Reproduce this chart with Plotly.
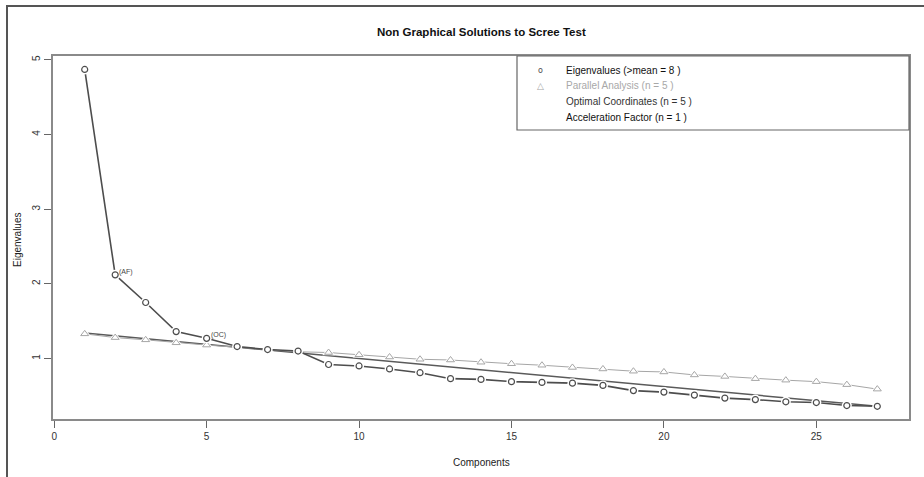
import plotly.graph_objects as go

# ---- data ----
components = list(range(1, 28))
eigenvalues = [4.87, 2.12, 1.75, 1.36, 1.27, 1.16, 1.12, 1.10, 0.92, 0.90,
               0.86, 0.81, 0.73, 0.72, 0.69, 0.68, 0.67, 0.64, 0.57, 0.55,
               0.51, 0.47, 0.45, 0.42, 0.41, 0.37, 0.36]
parallel = [1.33, 1.28, 1.25, 1.21, 1.18, 1.15, 1.12, 1.09, 1.08, 1.05,
            1.02, 0.99, 0.98, 0.95, 0.93, 0.91, 0.88, 0.86, 0.83, 0.82,
            0.78, 0.76, 0.73, 0.71, 0.69, 0.65, 0.59]
oc_x = [1, 27]
oc_y = [1.34, 0.36]
x_ticks = [0, 5, 10, 15, 20, 25]
y_ticks = [1, 2, 3, 4, 5]
legend_labels = ["Eigenvalues (>mean = 8 )", "Parallel Analysis (n = 5 )",
                 "Optimal Coordinates (n = 5 )", "Acceleration Factor (n = 1 )"]
legend_colors = ["#111111", "#a8a8a8", "#333333", "#111111"]
legend_symbols = ["o", "△", "", ""]
point_labels = {1: "(AF)", 4: "(OC)"}

EIG_C = "#4d4d4d"
PA_C = "#a6a6a6"
FONT = "Liberation Sans Narrow, Liberation Sans, Arial, sans-serif"

# pixel layout helpers
W, H = 924, 477
L, R, T, B = 53, 15, 56, 58
PW, PH = W - L - R, H - T - B


def px(xp):
    return (xp - L) / PW


def py(yp):
    return (H - B - yp) / PH


fig = go.Figure()

# optimal coordinates line
fig.add_trace(go.Scatter(x=oc_x, y=oc_y, mode="lines",
                         line=dict(color="#5a5a5a", width=1.5),
                         hoverinfo="skip", showlegend=False))
# parallel analysis
fig.add_trace(go.Scatter(x=components, y=parallel, mode="lines",
                         line=dict(color=PA_C, width=1),
                         hoverinfo="skip", showlegend=False))
fig.add_trace(go.Scatter(x=components, y=parallel, mode="markers",
                         marker=dict(symbol="triangle-up", size=11, color="white",
                                     line=dict(width=0)),
                         hoverinfo="skip", showlegend=False))
fig.add_trace(go.Scatter(x=components, y=parallel, mode="markers",
                         marker=dict(symbol="triangle-up", size=7, color="white",
                                     line=dict(color=PA_C, width=1)),
                         name="Parallel Analysis", showlegend=False))
# eigenvalues
fig.add_trace(go.Scatter(x=components, y=eigenvalues, mode="lines",
                         line=dict(color=EIG_C, width=1.6),
                         hoverinfo="skip", showlegend=False))
fig.add_trace(go.Scatter(x=components, y=eigenvalues, mode="markers",
                         marker=dict(symbol="circle", size=10, color="white",
                                     line=dict(width=0)),
                         hoverinfo="skip", showlegend=False))
fig.add_trace(go.Scatter(x=components, y=eigenvalues, mode="markers",
                         marker=dict(symbol="circle", size=6, color="white",
                                     line=dict(color=EIG_C, width=1.2)),
                         name="Eigenvalues", showlegend=False))

annotations = []
for i, lab in point_labels.items():
    annotations.append(dict(x=components[i], y=eigenvalues[i], xref="x", yref="y",
                            text=lab, showarrow=False, xanchor="left", yanchor="middle",
                            xshift=2, yshift=3,
                            font=dict(size=7, color="#444", family=FONT)))

# title
annotations.append(dict(x=0.5, y=py(32), xref="paper", yref="paper",
                        text="<b>Non Graphical Solutions to Scree Test</b>",
                        showarrow=False, xanchor="center", yanchor="middle",
                        font=dict(size=11.5, color="#111",
                                  family="Liberation Sans, Arial, sans-serif")))
# axis titles
annotations.append(dict(x=0.5, y=py(463), xref="paper", yref="paper",
                        text="Components", showarrow=False, xanchor="center",
                        yanchor="middle", font=dict(size=10, color="#222", family=FONT)))
annotations.append(dict(x=px(17), y=py(240), xref="paper", yref="paper",
                        text="Eigenvalues", showarrow=False, textangle=-90,
                        xanchor="center", yanchor="middle",
                        font=dict(size=10, color="#222", family=FONT)))

# legend (manual)
row_y = [71, 86, 102, 117]
for lab, col, sym, yy in zip(legend_labels, legend_colors, legend_symbols, row_y):
    if sym:
        annotations.append(dict(x=px(540), y=py(yy), xref="paper", yref="paper",
                                text=sym, showarrow=False, xanchor="center",
                                yanchor="middle",
                                font=dict(size=8 if sym == "o" else 9,
                                          color=EIG_C if sym == "o" else PA_C,
                                          family="DejaVu Sans")))
    annotations.append(dict(x=px(564), y=py(yy), xref="paper", yref="paper",
                            text=lab, showarrow=False, xanchor="left",
                            yanchor="middle",
                            font=dict(size=10, color=col,
                                      family="Liberation Sans, Arial, sans-serif")))

shapes = [
    # legend box
    dict(type="rect", xref="paper", yref="paper", x0=px(517), x1=px(909),
         y0=py(130), y1=py(56), line=dict(color="#666", width=1.2)),
]

fig.update_layout(
    width=W, height=H,
    margin=dict(l=L, r=R, t=T, b=B),
    paper_bgcolor="white", plot_bgcolor="white",
    showlegend=False,
    annotations=annotations,
    shapes=shapes,
    font=dict(family=FONT, color="#333"),
)
fig.update_xaxes(range=[-0.04, 28.04], tickvals=x_ticks, ticktext=[str(v) for v in x_ticks],
                 showgrid=False, zeroline=False, showline=True, mirror=True,
                 linecolor="#8a8a8a", linewidth=1.5, ticks="outside", ticklen=7,
                 tickcolor="#666", tickfont=dict(size=10, color="#333", family=FONT))
fig.update_yaxes(range=[0.19, 5.05], tickvals=y_ticks, ticktext=[str(v) for v in y_ticks],
                 showgrid=False, zeroline=False, showline=True, mirror=True,
                 linecolor="#8a8a8a", linewidth=1.5, ticks="outside", ticklen=7,
                 tickcolor="#666", tickangle=-90,
                 tickfont=dict(size=10, color="#333", family=FONT))

post = (
    "document.body.style.margin='0';"
    "document.body.style.overflow='hidden';"
    "var fr=document.createElement('div');"
    "fr.style.cssText='position:absolute;left:6px;top:5px;width:2000px;height:2000px;"
    "border-left:2px solid #555;border-top:2px solid #555;pointer-events:none;z-index:10;';"
    "document.body.appendChild(fr);"
)
fig.write_html("out.html", config={"displayModeBar": False}, post_script=post)
